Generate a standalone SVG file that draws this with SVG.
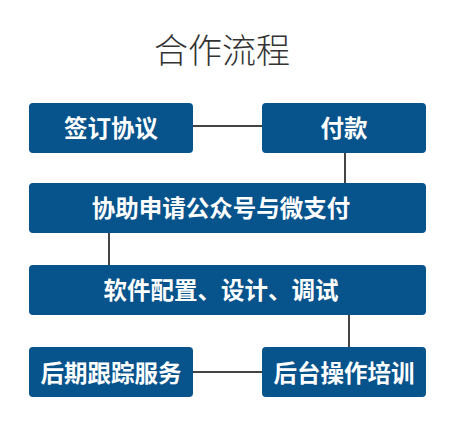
<svg xmlns="http://www.w3.org/2000/svg" width="456" height="446" viewBox="0 0 456 446">
<style>
.box{fill:#07538c}
.lbl{fill:#fff;font-family:"Noto Sans CJK SC","Noto Sans",sans-serif;font-size:23.5px;font-weight:bold;text-anchor:middle;dominant-baseline:central}
.title{fill:#333;font-family:"Noto Sans CJK SC","Noto Sans",sans-serif;font-size:34px;font-weight:300;text-anchor:middle}
.con{stroke:#444;stroke-width:2;fill:none}
</style>
<rect width="456" height="446" fill="#fff"/>
<text class="title" x="222" y="63">合作流程</text>
<g id="connectors">
<line class="con" x1="193" y1="126" x2="262" y2="126"/>
<line class="con" x1="345" y1="153" x2="345" y2="183"/>
<line class="con" x1="109" y1="233" x2="109" y2="265"/>
<line class="con" x1="349" y1="315" x2="349" y2="347"/>
<line class="con" x1="193" y1="372" x2="262" y2="372"/>
</g>
<g id="n1"><rect class="box" x="29" y="103" width="164" height="50" rx="4"/><text class="lbl" x="111" y="127">签订协议</text></g>
<g id="n2"><rect class="box" x="262" y="103" width="164" height="50" rx="4"/><text class="lbl" x="344" y="127">付款</text></g>
<g id="n3"><rect class="box" x="29" y="183" width="397" height="50" rx="4"/><text class="lbl" x="221" y="207">协助申请公众号与微支付</text></g>
<g id="n4"><rect class="box" x="29" y="265" width="397" height="50" rx="4"/><text class="lbl" x="221" y="289">软件配置、设计、调试</text></g>
<g id="n5"><rect class="box" x="29" y="347" width="164" height="50" rx="4"/><text class="lbl" x="111" y="372">后期跟踪服务</text></g>
<g id="n6"><rect class="box" x="262" y="347" width="164" height="50" rx="4"/><text class="lbl" x="344" y="372">后台操作培训</text></g>
</svg>
